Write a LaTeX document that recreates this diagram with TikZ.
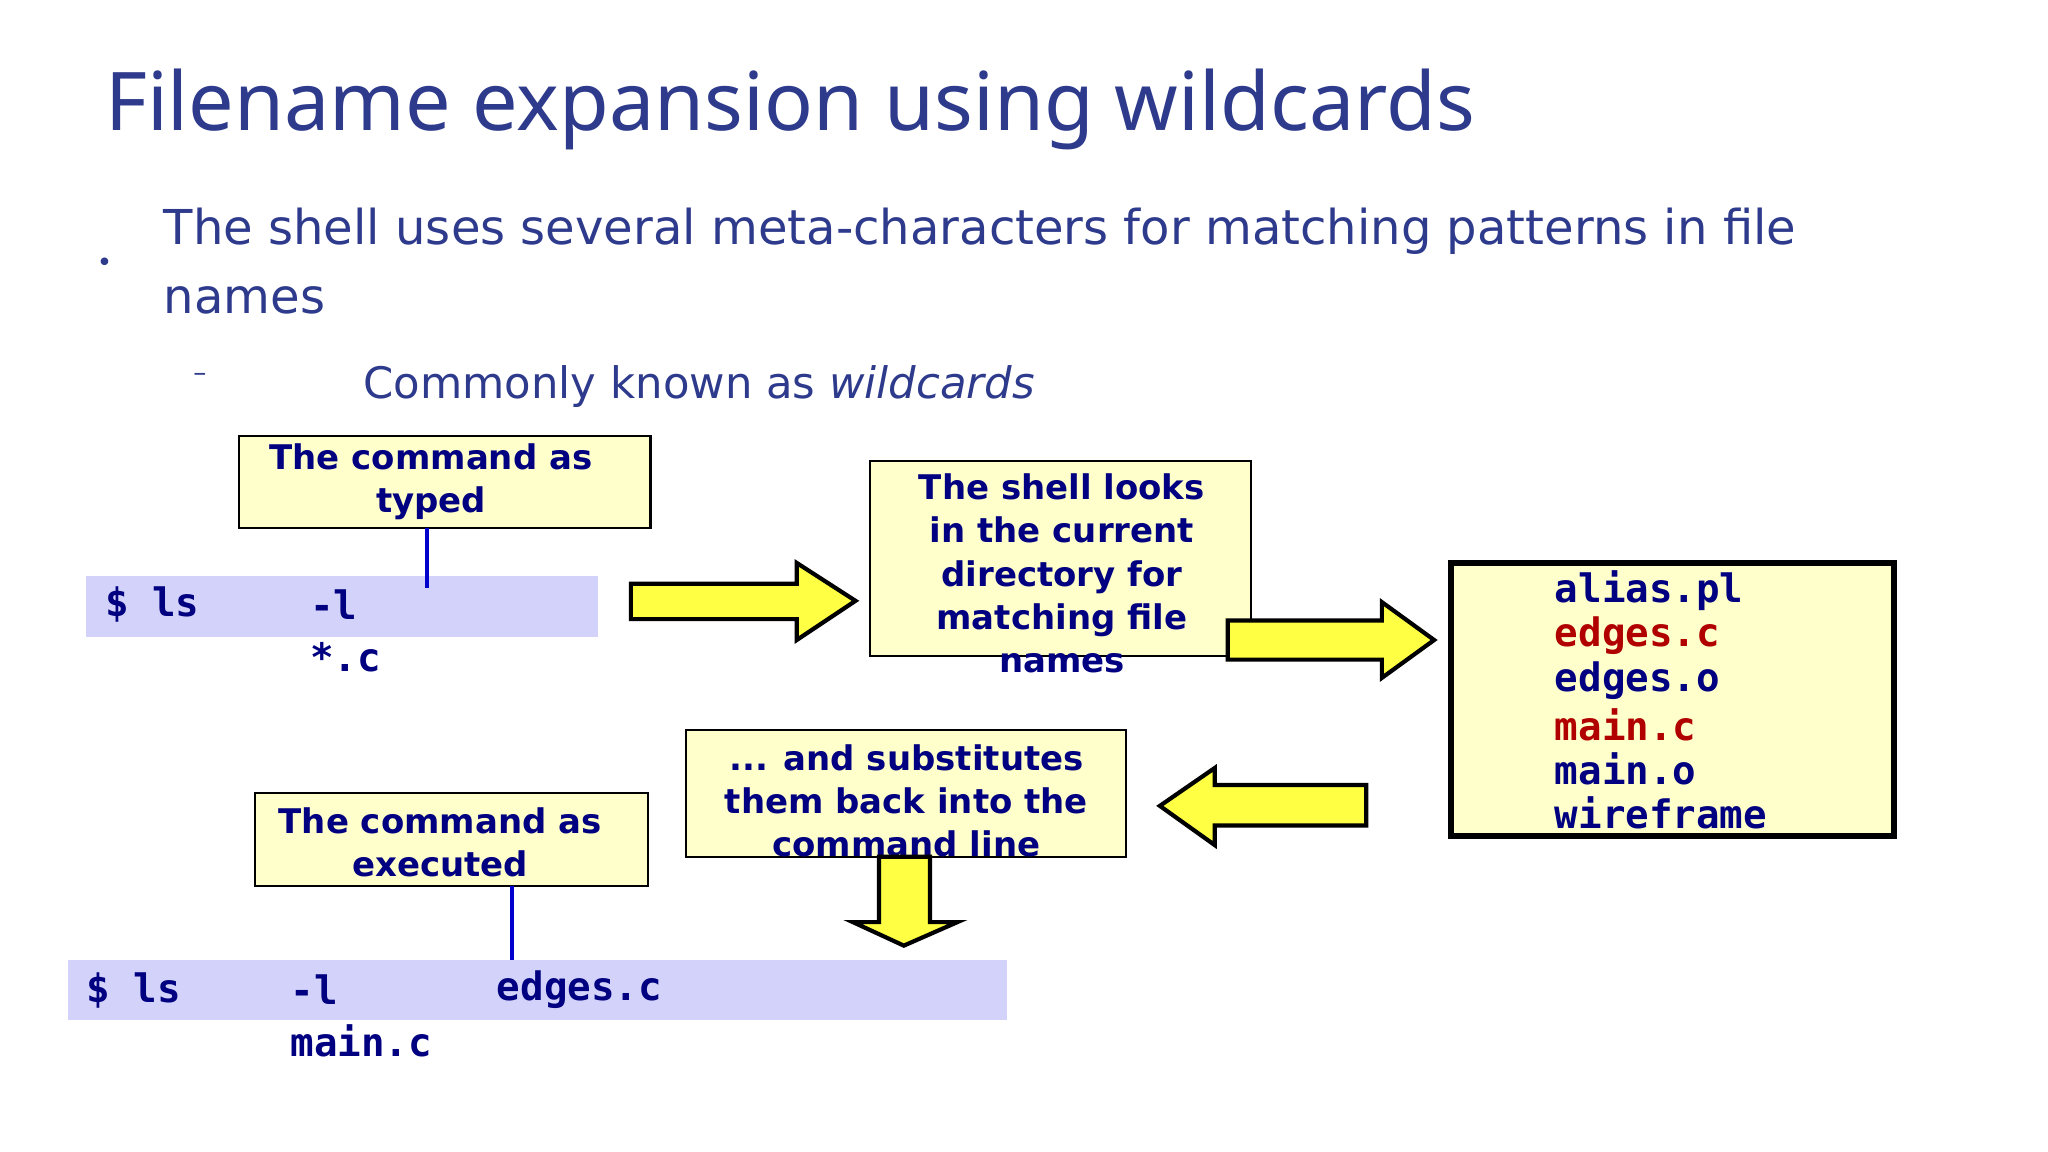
\documentclass[tikz,border=0pt]{standalone}
\usepackage{fontspec}
\setmainfont{DejaVu Sans}
\newfontfamily\titlefont{Noto Sans}
\newfontfamily\monofont{DejaVu Sans Mono}
\begin{document}
\definecolor{ttl}{HTML}{2E3A8C}
\definecolor{navy}{HTML}{000080}
\definecolor{dred}{HTML}{B00000}
\definecolor{lav}{HTML}{D2D2FA}
\definecolor{pale}{HTML}{FFFFCC}
\definecolor{ayel}{HTML}{FFFF44}
\begin{tikzpicture}[x=0.5pt,y=-0.5pt,
  box/.style={draw=black,fill=pale,line width=0.8pt},
  btxt/.style={font=\fontsize{13}{16.5}\selectfont\bfseries,text=navy,align=center,inner sep=0pt},
  mono/.style={font=\fontsize{15}{17}\monofont\bfseries,text=navy,anchor=west,inner sep=0pt},
  arr/.style={draw=black,fill=ayel,line width=1.6pt,line join=miter},
  conn/.style={draw=blue!80!black,line width=1.3pt}]
\useasboundingbox (0,0) rectangle (1568,882);
\fill[white] (0,0) rectangle (1568,882);
\node[anchor=west,inner sep=0pt,text=ttl,font=\fontsize{31}{35}\titlefont] (title) at (80,84) {Filename expansion using wildcards};
\node[inner sep=0pt,text=ttl,font=\fontsize{10}{10}\selectfont] (dot) at (80,203) {•};
\node[anchor=west,inner sep=0pt,text=ttl,font=\fontsize{18.4}{26.5}\selectfont,align=left] (b1) at (125,200) {The shell uses several meta-characters for matching patterns in file\\names};
\node[inner sep=0pt,text=ttl,font=\fontsize{10}{10}\selectfont] (dash) at (153,289) {–};
\node[anchor=west,inner sep=0pt,text=ttl,font=\fontsize{16.6}{18}\selectfont] (b2) at (278,296) {Commonly known as \textit{wildcards}};
% row 1
\fill[lav] (66,441) rectangle (458,488);
\node[mono] (r1a) at (80,463) {\$ ls};
\node[mono] (r1b) at (237,463) {-l};
\node[mono] (r1c) at (237,503) {*.c};
\draw[box] (183,334) rectangle (498,404);
\node[btxt] (t1) at (330,369) {The command as\\typed};
\coordinate (c1a) at (327,404); \coordinate (c1b) at (327,450);
\draw[conn] (c1a) -- (c1b);
% arrow 1
\draw[arr] (483,447) -- (610,447) -- (610,431) -- (655,460) -- (610,490) -- (610,474) -- (483,474) -- cycle;
\draw[box] (666,353) rectangle (958,502);
\node[btxt] (t2) at (813,439) {The shell looks\\in the current\\directory for\\matching file\\names};
% arrow 2
\draw[arr] (940,475) -- (1058,475) -- (1058,461) -- (1098,490) -- (1058,519) -- (1058,505) -- (940,505) -- cycle;
\draw[fill=pale,draw=black,line width=2.2pt] (1111,431) rectangle (1450,640);
\node[mono] (f1) at (1190,452) {alias.pl};
\node[mono,text=dred] (f2) at (1190,487) {edges.c};
\node[mono] (f3) at (1190,521) {edges.o};
\node[mono,text=dred] (f4) at (1190,555) {main.c};
\node[mono] (f5) at (1190,589) {main.o};
\node[mono] (f6) at (1190,622) {wireframe};
% arrow 3
\draw[arr] (1046,601) -- (930,601) -- (930,588) -- (888,617) -- (930,647) -- (930,632) -- (1046,632) -- cycle;
\draw[box] (525,559) rectangle (862,656);
\node[btxt] (t4) at (694,613) {... and substitutes\\them back into the\\command line};
% down arrow
\draw[arr] (673,656) -- (712,656) -- (712,706) -- (733,706) -- (692,724) -- (653,706) -- (673,706) -- cycle;
% row 2
\fill[lav] (52,735) rectangle (771,781);
\node[mono] (r2a) at (66,758) {\$ ls};
\node[mono] (r2b) at (222,758) {-l};
\node[mono] (r2c) at (380,758) {edges.c};
\node[mono] (r2d) at (222,797) {main.c};
\draw[box] (195,607) rectangle (496,678);
\node[btxt] (t5) at (337,645) {The command as\\executed};
\coordinate (c2a) at (392,678); \coordinate (c2b) at (392,735);
\draw[conn] (c2a) -- (c2b);
\end{tikzpicture}
\end{document}
